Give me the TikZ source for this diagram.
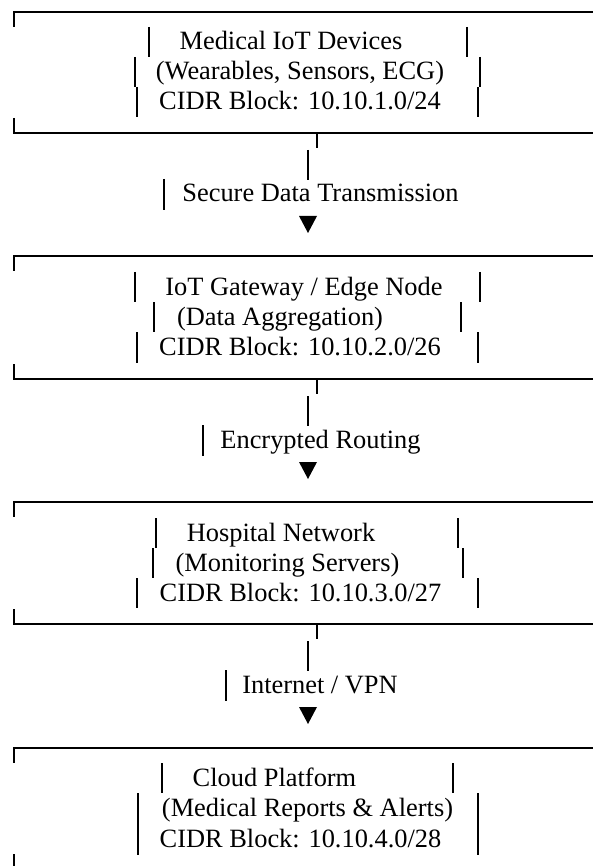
\documentclass[tikz,border=0pt]{standalone}
\usepackage{fontspec}
\setmainfont{Liberation Serif}
\tikzset{
  boxline/.style={line width=2pt, line join=miter, line cap=butt},
  glyphbar/.style={line width=1.8pt},
  lbl/.style={anchor=base, inner sep=0pt, font=\fontsize{26.4}{30}\selectfont},
  headtri/.style={fill=black},
}
% open box: top rule with a short left tick, bottom rule with a short left tick
\newcommand{\artframe}[2]{%
  \draw[boxline] (600,#1) -- (14,#1) -- (14,#1+15);
  \draw[boxline] (14,#2-15) -- (14,#2) -- (600,#2);
}
% one text-line bar
\newcommand{\artbar}[3]{\draw[glyphbar] (#1,#2) -- (#1,#3);}
% downward link below a box: small tick, bar, label bar, triangle
\newcommand{\artlink}[4]{%
  \draw[glyphbar] (317,#1) -- (317,#1+15);
  \artbar{308}{#1+17}{#1+47}
  \artbar{#2}{#3}{#3+31}
  \fill[headtri] (299,#4) -- (317,#4) -- (308,#4+17) -- cycle;
}
\begin{document}
\begin{tikzpicture}[x=1pt,y=-1pt]
\useasboundingbox[fill=white] (0,0) rectangle (592,866);

% ---------- Medical IoT Devices ----------
\artframe{12}{133}
\artbar{149}{27}{57}  \artbar{467}{27}{57}
\artbar{135}{57}{87}  \artbar{480}{57}{87}
\artbar{137}{87}{117} \artbar{478}{87}{117}
\node[lbl] (dev1) at (291,50)  {Medical IoT Devices};
\node[lbl] (dev2) at (300,80)  {(Wearables, Sensors, ECG)};
\node[lbl] (dev3) at (300,110) {CIDR Block: 10.10.1.0/24};

% link 1
\artlink{133}{164}{179}{216}
\node[lbl] (lnk1) at (320.5,202) {Secure Data Transmission};

% ---------- IoT Gateway ----------
\artframe{256}{379}
\artbar{135}{272}{302} \artbar{480}{272}{302}
\artbar{154}{302}{332} \artbar{461}{302}{332}
\artbar{137}{332}{363} \artbar{478}{332}{363}
\node[lbl] (gw1) at (304,295) {IoT Gateway / Edge Node};
\node[lbl] (gw2) at (280,325) {(Data Aggregation)};
\node[lbl] (gw3) at (300,355) {CIDR Block: 10.10.2.0/26};

% link 2
\artlink{379}{203}{425}{462}
\node[lbl] (lnk2) at (320.5,448) {Encrypted Routing};

% ---------- Hospital Network ----------
\artframe{502}{624}
\artbar{156}{518}{548} \artbar{458}{518}{548}
\artbar{153}{548}{578} \artbar{463}{548}{578}
\artbar{137}{578}{608} \artbar{478}{578}{608}
\node[lbl] (hn1) at (281,541)   {Hospital Network};
\node[lbl] (hn2) at (287.5,571) {(Monitoring Servers)};
\node[lbl] (hn3) at (300.5,601) {CIDR Block: 10.10.3.0/27};

% link 3
\artlink{624}{226}{670}{707}
\node[lbl] (lnk3) at (320,693) {Internet / VPN};

% ---------- Cloud Platform ----------
\draw[boxline] (600,748) -- (14,748) -- (14,763);
\draw[boxline] (14,854) -- (14,870);
\artbar{162}{763}{793} \artbar{453}{763}{793}
\artbar{138}{793}{824} \artbar{478}{793}{824}
\artbar{138}{824}{855} \artbar{478}{824}{855}
\node[lbl] (cp1) at (274.5,786) {Cloud Platform};
\node[lbl] (cp2) at (307.5,816) {(Medical Reports \& Alerts)};
\node[lbl] (cp3) at (300.5,847) {CIDR Block: 10.10.4.0/28};
\end{tikzpicture}
\end{document}
